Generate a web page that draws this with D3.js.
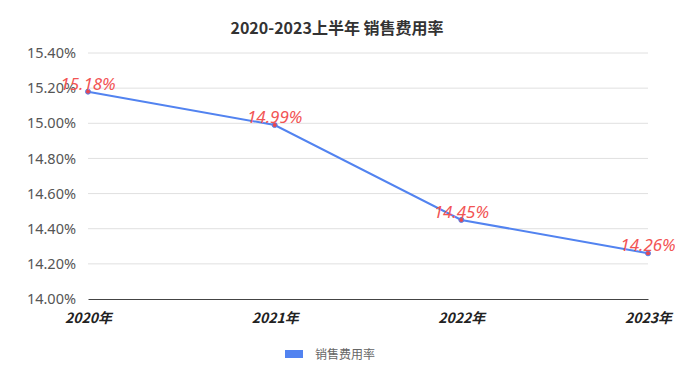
<!DOCTYPE html>
<html>
<head>
<meta charset="utf-8">
<script src="https://cdn.jsdelivr.net/npm/d3@7"></script>
<style>
  body { margin: 0; background: #fff; }
  text { font-family: "Noto Sans CJK SC", "Noto Sans", sans-serif; }
</style>
</head>
<body>
<div id="chart"></div>
<script>
// data
const years = ["2020年", "2021年", "2022年", "2023年"];
const rates = [15.18, 14.99, 14.45, 14.26];
const yTicks = [14.0, 14.2, 14.4, 14.6, 14.8, 15.0, 15.2, 15.4];
const seriesName = "销售费用率";

const W = 675, H = 386;
const margin = {top: 53, right: 27, bottom: 87, left: 88};
const width = W - margin.left - margin.right;
const height = H - margin.top - margin.bottom;

const svg = d3.select("#chart").append("svg")
    .attr("width", W)
    .attr("height", H);

// Title
svg.append("text")
    .attr("x", 337)
    .attr("y", 34)
    .attr("text-anchor", "middle")
    .style("font-size", "16px")
    .style("font-weight", "bold")
    .style("fill", "#333")
    .text("2020-2023上半年 销售费用率");

const g = svg.append("g")
    .attr("transform", `translate(${margin.left},${margin.top})`);

const x = d3.scalePoint()
    .domain(years)
    .range([0, width]);

const y = d3.scaleLinear()
    .domain([14.0, 15.4])
    .range([height, 0]);

// grid
g.append("g")
    .selectAll("line")
    .data(yTicks.slice(1))
    .enter().append("line")
    .attr("x1", 0)
    .attr("x2", width)
    .attr("y1", d => y(d))
    .attr("y2", d => y(d))
    .attr("stroke", "#e0e0e0")
    .attr("stroke-width", 1);

// y axis
const yAxis = g.append("g")
    .call(d3.axisLeft(y).tickValues(yTicks).tickSize(0).tickPadding(12).tickFormat(d => d.toFixed(2) + "%"));
yAxis.select(".domain").remove();
yAxis.selectAll("text")
    .style("font-size", "14.5px")
    .style("fill", "#555")
    .style("font-family", "'Noto Sans', sans-serif");

// x axis
const xAxis = g.append("g")
    .attr("transform", `translate(0,${height})`)
    .call(d3.axisBottom(x).tickSize(0).tickPadding(14));
xAxis.select(".domain").attr("stroke", "#444");
xAxis.selectAll("text")
    .style("font-size", "14px")
    .style("font-weight", "bold")
    .style("font-style", "italic")
    .style("fill", "#222");

const data = years.map((d, i) => ({year: d, value: rates[i]}));

// line
g.append("path")
    .datum(data)
    .attr("fill", "none")
    .attr("stroke", "#5283f0")
    .attr("stroke-width", 2)
    .attr("d", d3.line().x(d => x(d.year)).y(d => y(d.value)));

// points
g.selectAll("circle")
    .data(data)
    .enter().append("circle")
    .attr("cx", d => x(d.year))
    .attr("cy", d => y(d.value))
    .attr("r", 2.5)
    .attr("fill", "#e8474f")
    .attr("stroke", "#5283f0")
    .attr("stroke-width", 1);

// labels
g.selectAll(".lbl")
    .data(data)
    .enter().append("text")
    .attr("class", "lbl")
    .attr("x", d => x(d.year))
    .attr("y", d => y(d.value) - 2)
    .attr("text-anchor", "middle")
    .style("font-size", "17px")
    .style("font-style", "italic")
    .style("fill", "#f25454")
    .style("font-family", "'Noto Sans', sans-serif")
    .text(d => d.value.toFixed(2) + "%");

// legend
const legend = svg.append("g")
    .attr("transform", "translate(285,350)");
legend.append("rect")
    .attr("width", 18)
    .attr("height", 8)
    .attr("fill", "#5283f0");
legend.append("text")
    .attr("x", 30)
    .attr("y", 8.5)
    .style("font-size", "12px")
    .style("fill", "#666")
    .text(seriesName);
</script>
</body>
</html>
